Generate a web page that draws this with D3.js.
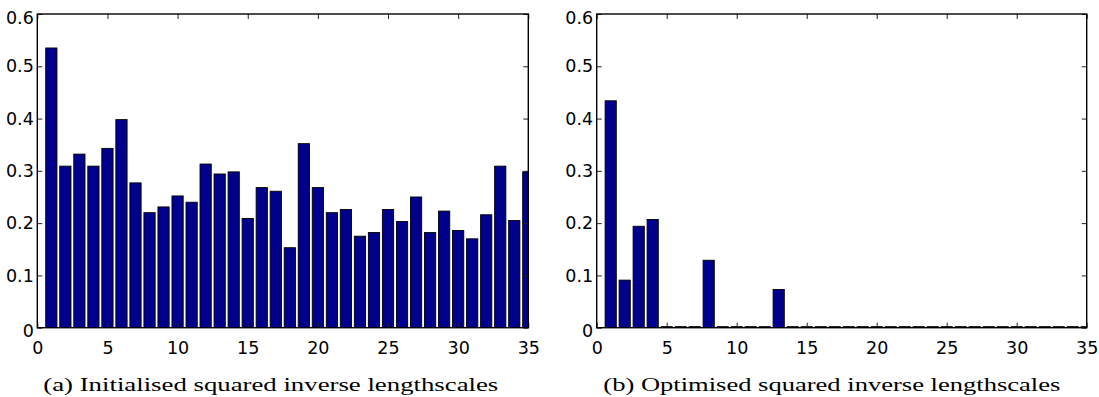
<!DOCTYPE html>
<html><head><meta charset="utf-8">
<script src="https://cdn.jsdelivr.net/npm/d3@7"></script>
<style>body{margin:0;background:#fff}svg{display:block}</style>
</head><body>
<svg id="c" width="1099" height="397"></svg>
<script>
const dims = [1,2,3,4,5,6,7,8,9,10,11,12,13,14,15,16,17,18,19,20,21,22,23,24,25,26,27,28,29,30,31,32,33,34,35];
const initialValues = [0.535,0.309,0.332,0.309,0.343,0.398,0.277,0.220,0.231,0.252,0.240,0.313,0.294,0.298,0.209,0.268,0.261,0.153,0.352,0.268,0.220,0.226,0.175,0.182,0.226,0.203,0.250,0.182,0.223,0.186,0.170,0.216,0.309,0.205,0.298];
const optimisedValues = [0.434,0.091,0.194,0.207,0.002,0.002,0.002,0.129,0.002,0.002,0.002,0.002,0.073,0.002,0.002,0.002,0.002,0.002,0.002,0.002,0.002,0.002,0.002,0.002,0.002,0.002,0.002,0.002,0.002,0.002,0.002,0.002,0.002,0.002,0.002];
const xTicks = [0,5,10,15,20,25,30,35];
const yTicks = [0,0.1,0.2,0.3,0.4,0.5,0.6];
const yTickLabels = ["0","0.1","0.2","0.3","0.4","0.5","0.6"];
const captions = ["(a) Initialised squared inverse lengthscales","(b) Optimised squared inverse lengthscales"];

(function () {
const svg = d3.select("#c");
const plotTop = 14, plotBottom = 327.7;
const panels = [
  {left: 37.3, right: 528.3, values: initialValues, caption: captions[0], capX: 43.3, capW: 455},
  {left: 596.7, right: 1086.7, values: optimisedValues, caption: captions[1], capX: 603.3, capW: 457}
];
const barColor = "#00008C";
const tickFont = "'DejaVu Sans', sans-serif";

panels.forEach((p, i) => {
  const x = d3.scaleLinear().domain([0, 35]).range([p.left, p.right]);
  const y = d3.scaleLinear().domain([0, 0.6]).range([plotBottom, plotTop]);
  const g = svg.append("g");
  const clipId = "clip" + i;
  svg.append("clipPath").attr("id", clipId).append("rect")
    .attr("x", p.left).attr("y", plotTop).attr("width", p.right - p.left).attr("height", plotBottom - plotTop);

  g.append("g").attr("clip-path", `url(#${clipId})`)
    .selectAll("rect").data(dims).join("rect")
    .attr("x", d => x(d - 0.4))
    .attr("width", x(0.8) - x(0))
    .attr("y", (d, k) => y(p.values[k]))
    .attr("height", (d, k) => y(0) - y(p.values[k]))
    .attr("fill", barColor)
    .attr("stroke", "#000")
    .attr("stroke-width", 0.9);

  const styleAxis = sel => {
    sel.select(".domain").remove();
    sel.selectAll(".tick line").attr("stroke", "#222").attr("stroke-width", 1);
    sel.selectAll("text").attr("font-family", tickFont).attr("font-size", 17.5).attr("fill", "#000");
  };

  g.append("g").attr("transform", `translate(0,${plotBottom})`)
    .call(d3.axisBottom(x).tickValues(xTicks).tickSize(-5).tickPadding(14).tickFormat(d3.format("d")))
    .call(styleAxis);
  g.append("g").attr("transform", `translate(0,${plotTop})`)
    .call(d3.axisTop(x).tickValues(xTicks).tickSize(-5).tickFormat(""))
    .call(styleAxis);
  const la = g.append("g").attr("transform", `translate(${p.left},0)`)
    .call(d3.axisLeft(y).tickValues(yTicks).tickSize(-5).tickPadding(3.5).tickFormat((d, k) => yTickLabels[k]))
    .call(styleAxis);
  la.selectAll(".tick text").attr("dy", d => d === 0.6 ? "0.56em" : d === 0 ? "0.52em" : "0.32em");
  g.append("g").attr("transform", `translate(${p.right},0)`)
    .call(d3.axisRight(y).tickValues(yTicks).tickSize(-5).tickFormat(""))
    .call(styleAxis);

  g.append("rect").attr("x", p.left).attr("y", plotTop)
    .attr("width", p.right - p.left).attr("height", plotBottom - plotTop)
    .attr("fill", "none").attr("stroke", "#000").attr("stroke-width", 1.4);

  g.append("text").attr("x", p.capX).attr("y", 391)
    .attr("font-family", "'Liberation Serif', 'Times New Roman', serif").attr("font-size", 18.5)
    .attr("textLength", p.capW).attr("lengthAdjust", "spacingAndGlyphs")
    .attr("fill", "#000")
    .text(p.caption);
});
})();
</script>
</body></html>
